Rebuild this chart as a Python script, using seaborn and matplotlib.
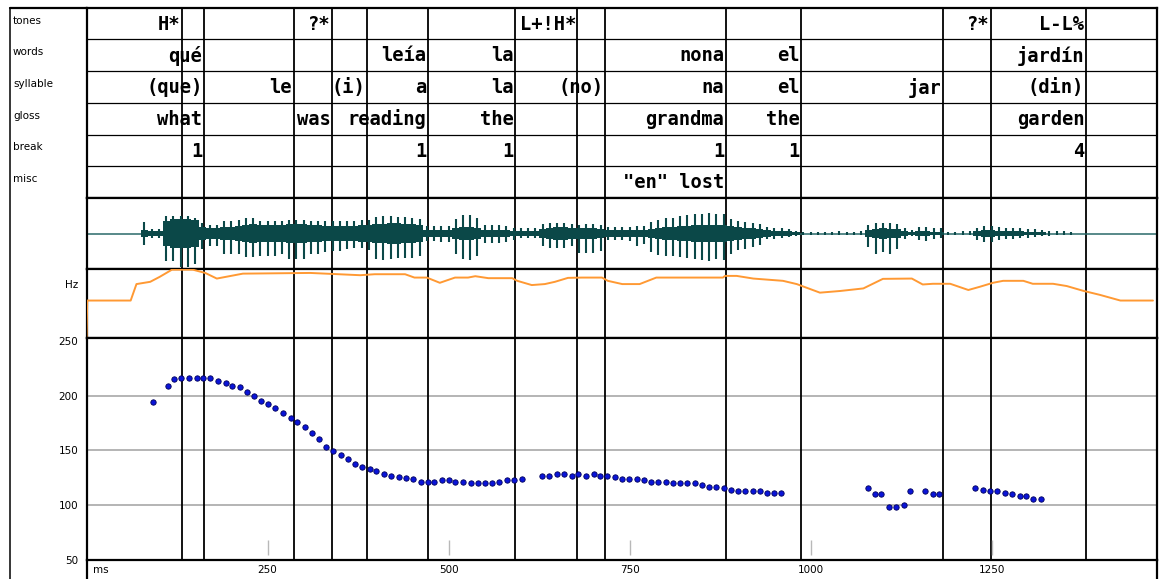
import numpy as np
import pandas as pd
import seaborn as sns
import matplotlib.pyplot as plt
from matplotlib.font_manager import FontProperties

# -------------------------------
# DATA
# -------------------------------
boundaries_ms = [132, 162, 286, 339, 387, 471, 592, 678, 716, 883, 987, 1183, 1249, 1380]

tier_names = ["tones", "words", "syllable", "gloss", "break", "misc"]

tones_end = [132, 339, 678, 1249, 1380]
tones_lab = ["H*", "?*", "L+!H*", "?*", "L-L%"]
words_end = [162, 471, 592, 883, 987, 1380]
words_lab = ["qué", "leía", "la", "nona", "el", "jardín"]
syll_end = [162, 286, 387, 471, 592, 716, 883, 987, 1183, 1380]
syll_lab = ["(que)", "le", "(i)", "a", "la", "(no)", "na", "el", "jar", "(din)"]
gloss_end = [162, 339, 471, 592, 883, 987, 1380]
gloss_lab = ["what", "was", "reading", "the", "grandma", "the", "garden"]
break_end = [162, 471, 592, 883, 987, 1380]
break_lab = ["1", "1", "1", "1", "1", "4"]
misc_end = [883]
misc_lab = ['"en" lost']

# waveform envelope, sampled every 10 ms (amplitude units, panel = +-35)
wave_ms = list(range(70, 1370, 10))
wave_top = [0, 11, 4, 4, 17, 17, 17, 17, 15, 10,
            8, 8, 12, 12, 13, 15, 15, 12, 12, 12,
            12, 13, 13, 13, 12, 12, 12, 12, 12, 12,
            12, 13, 13, 16, 17, 17, 16, 16, 15, 14,
            7, 7, 7, 7, 14, 18, 18, 15, 8, 8,
            8, 7, 5, 5, 5, 5, 9, 10, 10, 10,
            9, 8, 9, 9, 8, 6, 6, 6, 6, 7,
            7, 11, 13, 15, 15, 17, 18, 19, 19, 20,
            19, 19, 14, 12, 11, 10, 9, 6, 5, 5,
            4, 2, 1, 1, 1, 1, 1, 2, 1, 1,
            2, 8, 10, 10, 10, 9, 5, 3, 6, 6,
            5, 5, 1, 1, 2, 2, 5, 7, 7, 6,
            5, 5, 5, 4, 4, 3, 2, 2, 2, 1]
wave_bot = [0, 11, 4, 4, 27, 27, 33, 33, 30, 15,
            12, 12, 20, 20, 20, 23, 23, 22, 22, 22,
            20, 25, 25, 25, 20, 20, 18, 17, 17, 15,
            14, 14, 16, 25, 26, 25, 24, 24, 24, 22,
            7, 7, 8, 8, 20, 25, 26, 22, 9, 9,
            9, 8, 6, 4, 4, 4, 12, 14, 14, 14,
            12, 19, 19, 19, 17, 6, 6, 6, 7, 12,
            10, 18, 21, 22, 22, 23, 24, 25, 26, 27,
            25, 26, 20, 16, 15, 13, 11, 5, 5, 4,
            3, 2, 1, 1, 1, 1, 1, 1, 1, 1,
            1, 13, 20, 18, 20, 15, 5, 2, 6, 7,
            5, 4, 1, 1, 1, 1, 6, 8, 8, 6,
            5, 5, 4, 4, 3, 2, 2, 1, 1, 1]
wave_core = [0, 3, 2, 2, 12, 14, 14, 14, 13, 6,
             5, 5, 6, 6, 7, 8, 9, 8, 8, 8,
             8, 9, 9, 9, 8, 8, 7, 7, 7, 7,
             7, 8, 8, 9, 9, 10, 10, 9, 9, 8,
             3, 3, 3, 3, 5, 6, 6, 5, 3, 3,
             3, 3, 2, 2, 2, 2, 4, 5, 6, 6,
             5, 5, 5, 5, 4, 3, 3, 3, 3, 3,
             3, 4, 5, 6, 6, 7, 7, 8, 8, 8,
             8, 8, 7, 6, 5, 5, 4, 3, 2, 2,
             2, 1, 0, 0, 0, 0, 0, 0, 0, 0,
             0, 3, 4, 5, 4, 4, 2, 1, 2, 2,
             1, 1, 0, 0, 0, 0, 2, 3, 3, 2,
             2, 2, 2, 1, 1, 1, 0, 0, 0, 0]

# orange contour (panel units 0..70)
int_ms = [0, 1, 61, 69, 88, 101, 118, 147, 164, 180,
          216, 309, 378, 398, 440, 453, 470, 488, 509, 527,
          537, 555, 588, 595, 615, 633, 647, 665, 684, 712,
          720, 740, 764, 787, 879, 882, 898, 921, 962, 981,
          1013, 1041, 1073, 1100, 1140, 1155, 1169, 1193, 1218, 1234,
          1252, 1266, 1294, 1307, 1335, 1354, 1376, 1400, 1428, 1473]
int_val = [0, 38, 38, 54.7, 57, 62, 69.3, 69.3, 66, 60.3,
           65.3, 66, 63.7, 64.7, 64.7, 61.3, 61.3, 56, 61.3, 61.3,
           62.7, 60.7, 60.7, 58, 53.7, 54.7, 57, 61, 61.3, 61.3,
           58, 54.7, 54.7, 61.3, 61.3, 63, 63, 60.3, 58, 54.7,
           46, 47.7, 50.3, 60, 60.3, 54.3, 55, 55, 48.7, 52,
           56, 58, 58, 55, 55, 52.7, 48, 43.7, 38, 38]

# F0 track
pitch_ms = [92, 112, 121, 131, 142, 152, 161, 171, 182, 192,
            201, 212, 222, 232, 241, 251, 261, 272, 282, 291,
            302, 312, 321, 331, 340, 352, 361, 371, 381, 392,
            400, 411, 421, 431, 441, 451, 462, 472, 480, 491,
            500, 509, 520, 531, 541, 550, 560, 570, 581, 591,
            601, 629, 639, 650, 660, 670, 679, 690, 701, 709,
            719, 730, 740, 749, 760, 770, 780, 789, 800, 810,
            820, 830, 840, 850, 860, 870, 880, 890, 900, 910,
            920, 930, 940, 949, 959, 1079, 1089, 1097, 1108, 1118,
            1129, 1137, 1158, 1169, 1178, 1227, 1238, 1248, 1257, 1268,
            1278, 1289, 1297, 1308, 1318]
pitch_hz = [194, 209, 215, 216, 216, 216, 216, 216, 213.5, 211.7,
            209, 207.7, 203.7, 199.4, 195.4, 192.7, 188.4, 184.1, 179.8, 175.9,
            171.3, 165.7, 160.2, 153.5, 149.2, 145.5, 142.5, 137.9, 135.1, 132.7,
            130.8, 128.1, 126.6, 125.3, 124.7, 124.1, 121, 121, 121, 122.6,
            122.6, 121, 121, 119.8, 119.8, 119.8, 119.8, 121, 122.6, 122.6,
            124.1, 126.6, 126.6, 128.1, 128.1, 126.6, 128.1, 126.6, 128.1, 126.6,
            126.6, 125.3, 124.1, 124.1, 124.1, 122.6, 121, 121, 121, 119.8,
            119.8, 119.8, 119.8, 118.3, 116.8, 116.8, 115.5, 114, 112.8, 112.8,
            112.8, 112.8, 111.2, 111.2, 111.2, 115.5, 110, 110, 98.4, 98.4,
            100.2, 112.8, 112.8, 110, 110, 115.5, 114, 112.8, 112.8, 111.2,
            110, 108.5, 108.5, 105.7, 105.7]

hz_ticks = [50, 100, 150, 200, 250]
ms_ticks = [250, 500, 750, 1000, 1250]

# -------------------------------
# FIGURE SETUP
# -------------------------------
sns.set_theme(style="white")
plt.rcParams['font.family'] = ['DejaVu Sans']
plt.rcParams['text.color'] = 'black'
plt.rcParams['xtick.color'] = 'black'
plt.rcParams['ytick.color'] = 'black'

W, H = 1159, 579
fig = plt.figure(figsize=(W / 100, H / 100), dpi=100)
fig.patch.set_facecolor("white")

X0, X1 = 86.5, 1157
XMAX = (X1 - X0) / 0.724

tier_font = FontProperties(family="DejaVu Sans Mono", weight="bold", size=13.5)


def px_axes(x0, y0, x1, y1):
    return fig.add_axes([x0 / W, 1 - y1 / H, (x1 - x0) / W, (y1 - y0) / H])


def style_panel(ax, lw=1.6):
    ax.set_xlim(0, XMAX)
    ax.set_xticks([])
    ax.set_yticks([])
    ax.set_facecolor("white")
    for s in ax.spines.values():
        s.set_visible(True)
        s.set_color("black")
        s.set_linewidth(lw)
    for b in boundaries_ms:
        ax.axvline(b, color="black", lw=1.3, zorder=1)


# frame for the label column
frame = fig.add_axes([0, 0, 1, 1])
frame.set_xlim(0, W)
frame.set_ylim(H, 0)
frame.axis("off")
frame.plot([10, 10], [7.5, H], color="black", lw=1.1)
frame.plot([10, X0], [7.5, 7.5], color="black", lw=1.6)
frame.plot([X0, X0], [559, H], color="black", lw=1.6)
frame.plot([X1, X1], [559, H], color="black", lw=1.6)
row_h = (197.5 - 7.5) / 6
for i, name in enumerate(tier_names):
    frame.text(13, 7.5 + row_h * (i + 0.42), name, fontsize=7.5, va="center", ha="left")
frame.text(78, 285, "Hz", fontsize=7.5, va="center", ha="right")
frame.text(93, 570, "ms", fontsize=7.5, va="center", ha="left")

# -------------------------------
# TIERS
# -------------------------------
ax_t = px_axes(X0, 7.5, X1, 198)
style_panel(ax_t)
ax_t.set_ylim(6, 0)
for i in range(1, 6):
    ax_t.axhline(i, color="black", lw=0.9)

tiers = [(tones_end, tones_lab), (words_end, words_lab), (syll_end, syll_lab),
         (gloss_end, gloss_lab), (break_end, break_lab), (misc_end, misc_lab)]
for row, (ends, labs) in enumerate(tiers):
    for e, lab in zip(ends, labs):
        ax_t.text(e - 2.0, row + 0.52, lab, ha="right", va="center",
                  fontproperties=tier_font, color="black", zorder=3)

# -------------------------------
# WAVEFORM
# -------------------------------
ax_w = px_axes(X0, 198, X1, 269)
style_panel(ax_w)
ax_w.set_ylim(-35, 35)
ax_w.axhline(0, color="#2a6a6a", lw=1.1, zorder=2)
wave_col = "#0b4848"
ax_w.fill_between(wave_ms, [-c for c in wave_core], wave_core, color=wave_col,
                  lw=0, step="mid", zorder=3)
ax_w.vlines(wave_ms, [-b for b in wave_bot], wave_top, color=wave_col, lw=1.5, zorder=3)

# -------------------------------
# ORANGE CONTOUR
# -------------------------------
ax_i = px_axes(X0, 269, X1, 338)
style_panel(ax_i)
ax_i.set_ylim(0, 70)
df_int = pd.DataFrame({"ms": int_ms, "val": int_val})
sns.lineplot(data=df_int, x="ms", y="val", ax=ax_i, color="#ff9933", lw=1.4,
             sort=False, estimator=None, zorder=3)
ax_i.set_xlabel("")
ax_i.set_ylabel("")
ax_i.set_xticks([])
ax_i.set_yticks([])

# -------------------------------
# PITCH PANEL
# -------------------------------
ax_p = px_axes(X0, 338, X1, 559.5)
style_panel(ax_p)
ax_p.set_ylim(50, 253)
for h in [100, 150, 200]:
    ax_p.axhline(h, color="#a8a8a8", lw=1.2, zorder=0)
ax_p.vlines(ms_ticks, 0.02, 0.09, transform=ax_p.get_xaxis_transform(),
            color="#b8b8b8", lw=1.0, zorder=2)
df_p = pd.DataFrame({"ms": pitch_ms, "hz": pitch_hz})
sns.scatterplot(data=df_p, x="ms", y="hz", ax=ax_p, color="#0a14d8",
                edgecolor="#00005a", linewidth=0.6, s=15, zorder=4)
ax_p.set_xlabel("")
ax_p.set_ylabel("")
ax_p.set_xticks(ms_ticks)
ax_p.set_xticklabels([str(t) for t in ms_ticks])
ax_p.set_yticks(hz_ticks)
ax_p.set_yticklabels([str(t) for t in hz_ticks])
ax_p.tick_params(axis="both", length=0, labelsize=7.5)
ax_p.tick_params(axis="x", pad=4)
ax_p.tick_params(axis="y", pad=6)

fig.savefig("out.png", dpi=100)
